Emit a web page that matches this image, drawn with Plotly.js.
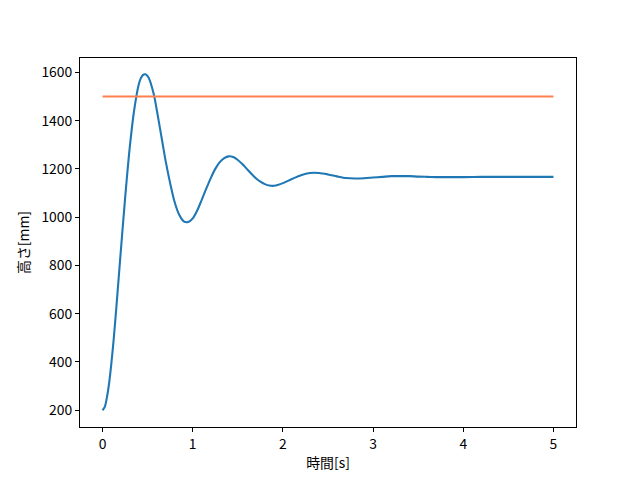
<!DOCTYPE html>
<html>
<head>
<meta charset="utf-8">
<script src="https://cdn.plot.ly/plotly-3.0.1.min.js"></script>
<style>html,body{margin:0;padding:0;background:#fff;}#chart{width:640px;height:480px;}</style>
</head>
<body>
<div id="chart"></div>
<script>
// Time [s] and height [mm] of the response curve
const timeS = [0.000,0.025,0.050,0.075,0.100,0.125,0.150,0.200,0.250,0.300,0.350,0.400,0.425,0.450,0.475,0.500,0.525,0.550,0.575,0.600,0.625,0.650,0.675,0.700,0.750,0.800,0.850,0.900,0.950,
  1.00,1.05,1.10,1.15,1.20,1.25,1.30,1.35,1.40,1.45,1.50,1.55,1.60,1.65,1.70,1.75,1.80,1.85,1.90,1.95,
  2.00,2.10,2.20,2.30,2.40,2.50,2.60,2.70,2.80,2.90,3.00,3.10,3.20,3.30,3.40,3.50,3.60,3.70,3.80,3.90,
  4.00,4.20,4.40,4.60,4.80,5.00];
const heightMm = [200,214,256,318,402,500,612,848,1078,1283,1442,1548,1576,1590,1592,1584,1566,1535,1498,1447,1394,1340,1285,1232,1140,1062,1010,983,980,
  995,1028,1072,1118,1162,1200,1228,1245,1252,1249,1237,1220,1200,1180,1161,1147,1137,1131,1130,1134,
  1141,1158,1174,1183,1183,1177,1169,1162,1160,1161,1164,1167,1170,1170,1170,1168,1167,1166,1166,1166,
  1166,1167,1167,1167,1167,1167];
// Target height line
const targetT = [0, 5];
const targetMm = [1500, 1500];

const xTicks = [0,1,2,3,4,5];
const yTicks = [200,400,600,800,1000,1200,1400,1600];

const font = {family: '"Noto Sans CJK JP", "DejaVu Sans", sans-serif', size: 13.9, color: '#000'};

const traces = [
  {x: timeS, y: heightMm, type: 'scatter', mode: 'lines',
   line: {color: '#1f77b4', width: 2.08, shape: 'spline', smoothing: 0.8}, showlegend: false},
  {x: targetT, y: targetMm, type: 'scatter', mode: 'lines',
   line: {color: '#ff7f50', width: 2.08}, showlegend: false}
];

const axisBase = {
  showgrid: false, zeroline: false, showline: true, mirror: true,
  linecolor: '#000', linewidth: 1, ticks: 'outside', ticklen: 4, tickwidth: 1,
  tickcolor: '#000', tickfont: font
};

const layout = {
  width: 640, height: 480,
  paper_bgcolor: '#fff', plot_bgcolor: '#fff',
  margin: {l: 80, r: 64, t: 58, b: 53},
  font: font,
  xaxis: Object.assign({}, axisBase, {
    range: [-0.25, 5.25], tickvals: xTicks, ticktext: xTicks.map(String),
    title: {text: '時間[s]', font: font, standoff: 6}
  }),
  yaxis: Object.assign({}, axisBase, {
    range: [130.5, 1659.5], tickvals: yTicks, ticktext: yTicks.map(String),
    title: {text: '高さ[mm]', font: font, standoff: 8}
  })
};

Plotly.newPlot('chart', traces, layout, {displayModeBar: false, staticPlot: true});
</script>
</body>
</html>
